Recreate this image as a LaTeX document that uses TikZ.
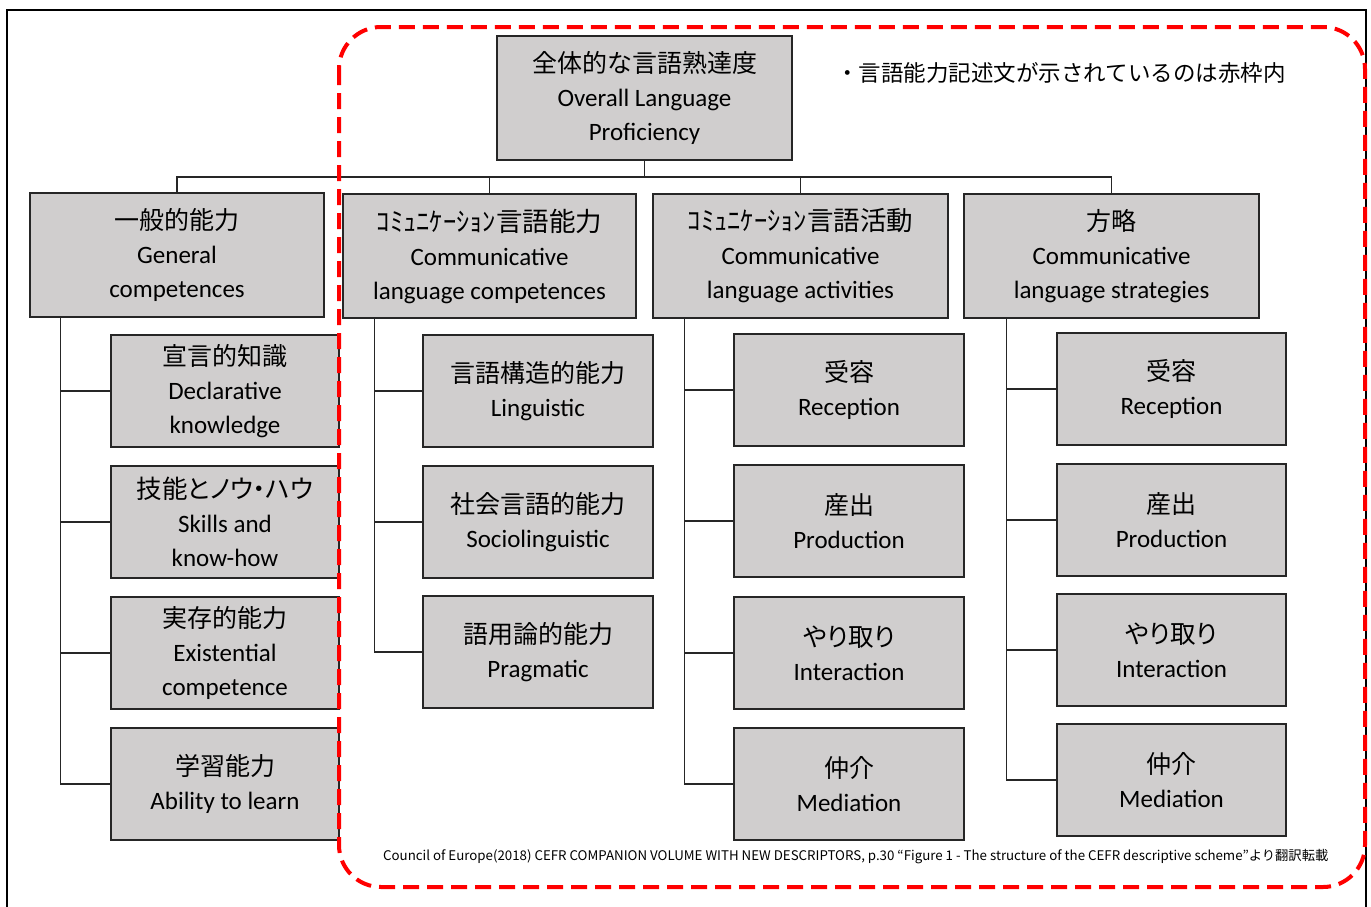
\documentclass[tikz,border=0pt]{standalone}
\usepackage{fontspec}
\setmainfont{Carlito}
\newfontfamily\jp{Noto Sans CJK JP}
\newfontfamily\jpp[RawFeature=+palt]{Noto Sans CJK JP}
\newcommand\jl[1]{{\jp\fontsize{25}{34}\selectfont #1}}
\newcommand\jlp[1]{{\jpp\fontsize{25.5}{34}\selectfont #1}}
\newcommand\jlk[1]{{\jp\fontsize{26.5}{34}\selectfont #1}}
\definecolor{boxgray}{HTML}{D0CECE}
\definecolor{framered}{HTML}{FF0000}
\tikzset{
  box/.style={draw=black!85, line width=1.6pt, fill=boxgray, align=center,
    inner sep=0pt, font=\fontsize{25}{34}\selectfont},
  bigbox/.style={box, minimum width=295pt, minimum height=124pt},
  smallbox/.style={box, minimum width=229pt, minimum height=112pt},
  conn/.style={draw=black!85, line width=1.4pt},
}
\begin{document}
\begin{tikzpicture}[x=1pt,y=-1pt]
\useasboundingbox (0,0) rectangle (1371,906);
% outer frame
\draw[line width=2pt] (7,910) -- (7,10) -- (1366,10) -- (1366,910);

% top
\node[bigbox] (top) at (644.5,98) {\jl{全体的な言語熟達度}\\Overall Language\\Proficiency};
% level 2
\node[bigbox, minimum width=294pt] (gen) at (177,255) {\jl{一般的能力}\\General\\competences};
\node[bigbox, minimum width=293pt] (clc) at (489.5,256) {\jlk{ｺﾐｭﾆｹｰｼｮﾝ言語能力}\\Communicative\\language competences};
\node[bigbox] (cla) at (800.5,256) {\jlk{ｺﾐｭﾆｹｰｼｮﾝ言語活動}\\Communicative\\language activities};
\node[bigbox] (str) at (1111.5,256) {\jl{方略}\\Communicative\\language strategies};

% general children
\node[smallbox, minimum width=228pt] (g1) at (225,391) {\jl{宣言的知識}\\Declarative\\knowledge};
\node[smallbox, minimum width=228pt] (g2) at (225,522) {\jlp{技能とノウ・ハウ}\\Skills and\\know-how};
\node[smallbox, minimum width=228pt] (g3) at (225,653) {\jl{実存的能力}\\Existential\\competence};
\node[smallbox, minimum width=228pt] (g4) at (225,784) {\jl{学習能力}\\Ability to learn};
% clc children
\node[smallbox, minimum width=230pt] (c1) at (538,391) {\jl{言語構造的能力}\\Linguistic};
\node[smallbox, minimum width=230pt] (c2) at (538,522) {\jl{社会言語的能力}\\Sociolinguistic};
\node[smallbox, minimum width=230pt] (c3) at (538,652) {\jl{語用論的能力}\\Pragmatic};
% cla children
\node[smallbox, minimum width=230pt] (a1) at (849,390) {\jl{受容}\\Reception};
\node[smallbox, minimum width=230pt] (a2) at (849,521) {\jl{産出}\\Production};
\node[smallbox, minimum width=230pt] (a3) at (849,653) {\jlp{やり取り}\\Interaction};
\node[smallbox, minimum width=230pt] (a4) at (849,784) {\jl{仲介}\\Mediation};
% strategies children
\node[smallbox] (s1) at (1171.5,389) {\jl{受容}\\Reception};
\node[smallbox] (s2) at (1171.5,520) {\jl{産出}\\Production};
\node[smallbox] (s3) at (1171.5,650) {\jlp{やり取り}\\Interaction};
\node[smallbox] (s4) at (1171.5,780) {\jl{仲介}\\Mediation};

% top connectors
\coordinate (bar) at (0,177);
\draw[conn] (top.south) -- (top.south |- bar) -| (gen.north);
\draw[conn] (top.south |- bar) -| (clc.north);
\draw[conn] (top.south |- bar) -| (cla.north);
\draw[conn] (top.south |- bar) -| (str.north);

% tree connectors
\foreach \c in {g1,g2,g3,g4} \draw[conn] ([xshift=31pt]gen.south west) |- (\c.west);
\foreach \c in {c1,c2,c3} \draw[conn] ([xshift=32pt]clc.south west) |- (\c.west);
\foreach \c in {a1,a2,a3,a4} \draw[conn] ([xshift=32pt]cla.south west) |- (\c.west);
\foreach \c in {s1,s2,s3,s4} \draw[conn] ([xshift=43pt]str.south west) |- (\c.west);

% note
\node[font=\jp\fontsize{22.5}{24}\selectfont, anchor=west, inner sep=0pt] (note) at (836,73) {・言語能力記述文が示されているのは赤枠内};
% caption
\node[font=\jp\fontsize{13.3}{15}\selectfont, anchor=west, inner sep=0pt] (cap) at (383,857) {Council of Europe(2018) CEFR COMPANION VOLUME WITH NEW DESCRIPTORS, p.30 “Figure 1 - The structure of the CEFR descriptive scheme”より翻訳転載};

% red dashed frame
\draw[framered, line width=4pt, dash pattern=on 16pt off 8pt, rounded corners=42pt] (339,27) rectangle (1365,887);
\end{tikzpicture}
\end{document}
